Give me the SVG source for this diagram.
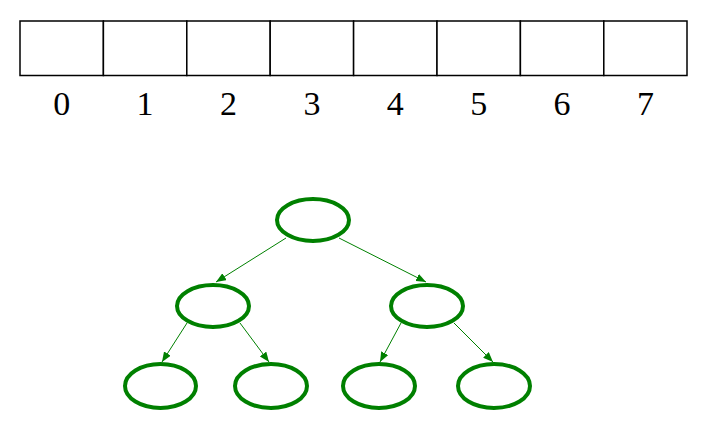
<svg xmlns="http://www.w3.org/2000/svg" width="708" height="435" viewBox="0 0 708 435">
<style>
.cell{fill:#fff;stroke:#000;stroke-width:1.5}
.lbl{font-family:"Liberation Serif","Times New Roman",serif;font-size:34px;fill:#000;text-anchor:middle}
.node{fill:#fff;stroke:#008000;stroke-width:4}
.edge{stroke:#008000;stroke-width:1;fill:none;marker-end:url(#arr)}
</style>
<defs>
<marker id="arr" markerWidth="10" markerHeight="8" refX="10" refY="4" orient="auto" markerUnits="userSpaceOnUse">
<path d="M0,0 L10,4 L0,8 Z" fill="#008000"/>
</marker>
</defs>
<g id="array">
<rect class="cell" x="20" y="21" width="83.4" height="54.5"/>
<rect class="cell" x="103.4" y="21" width="83.4" height="54.5"/>
<rect class="cell" x="186.8" y="21" width="83.4" height="54.5"/>
<rect class="cell" x="270.2" y="21" width="83.4" height="54.5"/>
<rect class="cell" x="353.6" y="21" width="83.4" height="54.5"/>
<rect class="cell" x="437" y="21" width="83.4" height="54.5"/>
<rect class="cell" x="520.4" y="21" width="83.4" height="54.5"/>
<rect class="cell" x="603.8" y="21" width="83.2" height="54.5"/>
</g>
<g id="labels">
<text class="lbl" x="61.7" y="115">0</text>
<text class="lbl" x="145.1" y="115">1</text>
<text class="lbl" x="228.5" y="115">2</text>
<text class="lbl" x="311.9" y="115">3</text>
<text class="lbl" x="395.3" y="115">4</text>
<text class="lbl" x="478.7" y="115">5</text>
<text class="lbl" x="562.1" y="115">6</text>
<text class="lbl" x="645.5" y="115">7</text>
</g>
<g id="connectors">
<line class="edge" x1="286" y1="238" x2="216" y2="282"/>
<line class="edge" x1="339" y1="238" x2="426" y2="282"/>
<line class="edge" x1="187" y1="323" x2="162" y2="362"/>
<line class="edge" x1="240" y1="323" x2="269" y2="362"/>
<line class="edge" x1="401" y1="323" x2="380" y2="362"/>
<line class="edge" x1="454" y1="323" x2="493" y2="362"/>
</g>
<g id="n0"><ellipse class="node" cx="313" cy="220" rx="36" ry="21"/></g>
<g id="n1"><ellipse class="node" cx="213" cy="306" rx="36" ry="21"/></g>
<g id="n2"><ellipse class="node" cx="427" cy="306" rx="36" ry="21"/></g>
<g id="n3"><ellipse class="node" cx="160.5" cy="386" rx="35.5" ry="22"/></g>
<g id="n4"><ellipse class="node" cx="271" cy="386" rx="36" ry="22"/></g>
<g id="n5"><ellipse class="node" cx="379" cy="386" rx="36" ry="22"/></g>
<g id="n6"><ellipse class="node" cx="494" cy="386" rx="36" ry="22"/></g>
</svg>
